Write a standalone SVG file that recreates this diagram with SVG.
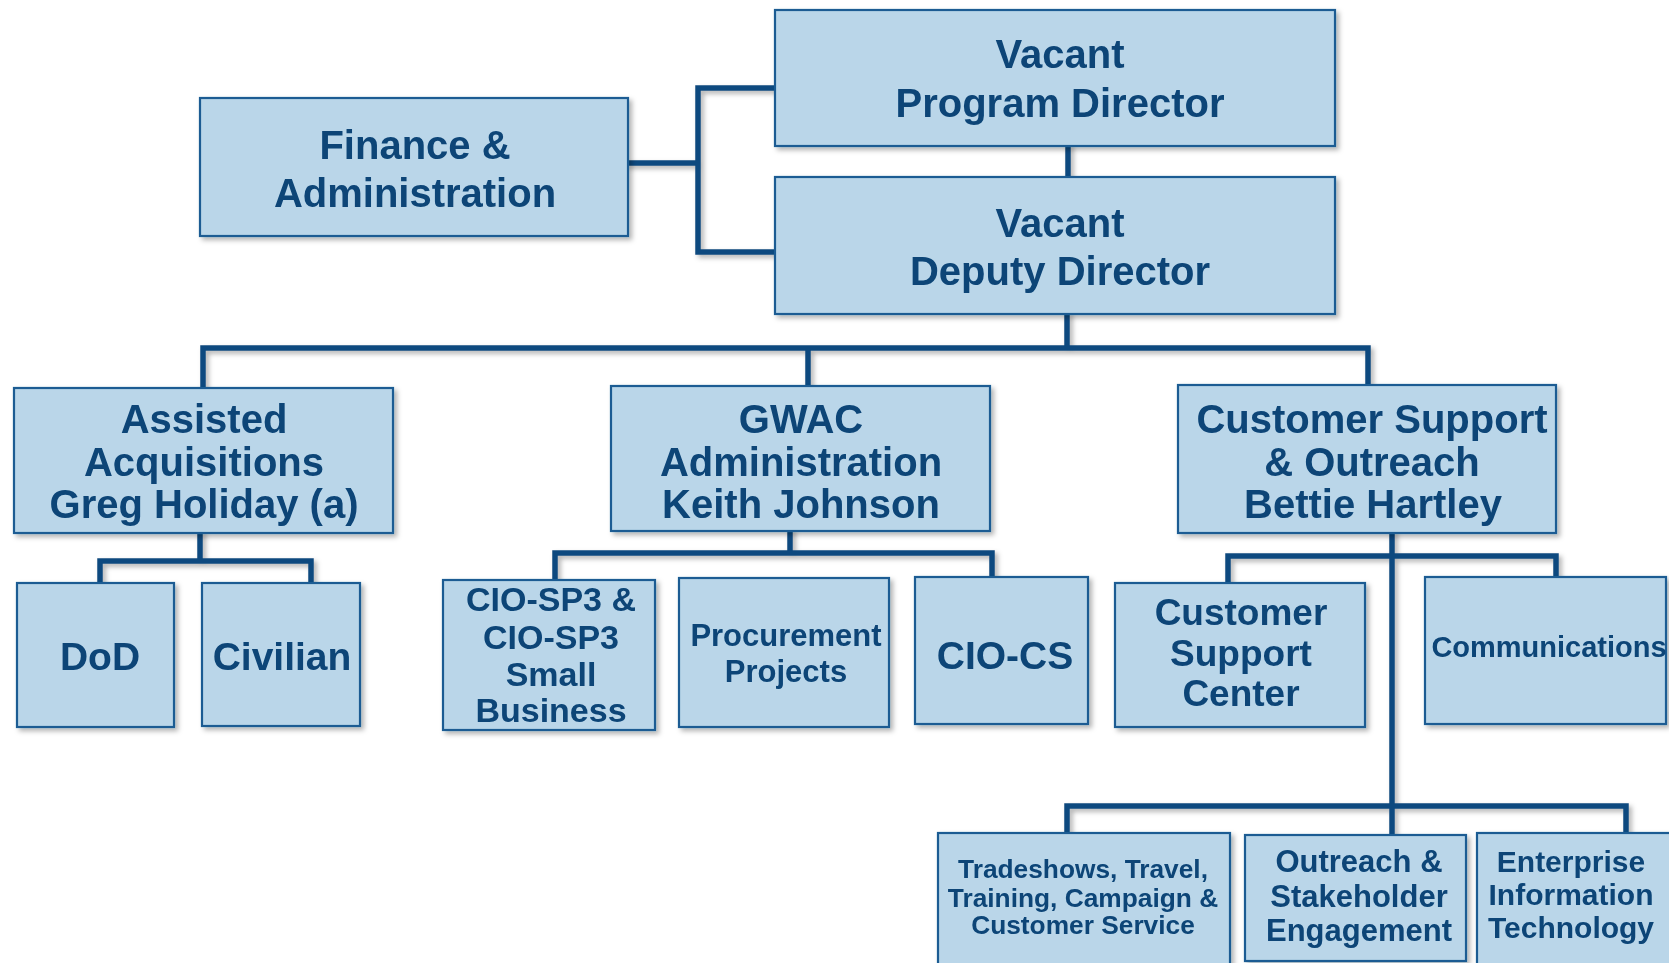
<svg xmlns="http://www.w3.org/2000/svg" width="1669" height="963" viewBox="0 0 1669 963">
<defs>
<filter id="sh" x="-10%" y="-10%" width="130%" height="130%">
<feDropShadow dx="3" dy="3" stdDeviation="2.5" flood-color="#000" flood-opacity="0.3"/>
</filter>
<style>
.box{fill:#bad6e9;stroke:#1d5b93;stroke-width:2.2}
.t{font-family:"Liberation Sans",Arial,sans-serif;font-weight:bold;fill:#0b4477;text-anchor:middle}
.c{fill:none;stroke:#0e4a7f;stroke-width:5.5;stroke-linecap:square;stroke-linejoin:miter}
</style>
</defs>
<rect width="1669" height="963" fill="#ffffff"/>
<g id="connectors" filter="url(#sh)">
<path class="c" d="M628,163 H698 M775,88 H698 V252 H775"/>
<path class="c" d="M1068,146 V177"/>
<path class="c" d="M1067,314 V348 M203,388 V348 H1368 V385 M808,348 V386"/>
<path class="c" d="M200,533 V561 M100,583 V561 H311 V583"/>
<path class="c" d="M790,531 V553 M555,580 V553 H992 V577"/>
<path class="c" d="M1392,533 V835 M1228,583 V556 H1556 V577"/>
<path class="c" d="M1067,833 V806 H1626 V833"/>
</g>
<g id="pd" filter="url(#sh)"><rect class="box" x="775" y="10" width="560" height="136"/>
<text class="t" font-size="40"><tspan x="1060" y="68">Vacant</tspan><tspan x="1060" y="117">Program Director</tspan></text></g>
<g id="dd" filter="url(#sh)"><rect class="box" x="775" y="177" width="560" height="137"/>
<text class="t" font-size="40"><tspan x="1060" y="237">Vacant</tspan><tspan x="1060" y="285">Deputy Director</tspan></text></g>
<g id="fin" filter="url(#sh)"><rect class="box" x="200" y="98" width="428" height="138"/>
<text class="t" font-size="40"><tspan x="415" y="159">Finance &amp;</tspan><tspan x="415" y="207">Administration</tspan></text></g>
<g id="aa" filter="url(#sh)"><rect class="box" x="14" y="388" width="379" height="145"/>
<text class="t" font-size="40"><tspan x="204" y="433">Assisted</tspan><tspan x="204" y="476">Acquisitions</tspan><tspan x="204" y="518">Greg Holiday (a)</tspan></text></g>
<g id="gwac" filter="url(#sh)"><rect class="box" x="611" y="386" width="379" height="145"/>
<text class="t" font-size="40"><tspan x="801" y="433">GWAC</tspan><tspan x="801" y="476">Administration</tspan><tspan x="801" y="518">Keith Johnson</tspan></text></g>
<g id="cso" filter="url(#sh)"><rect class="box" x="1178" y="385" width="378" height="148"/>
<text class="t" font-size="40"><tspan x="1372" y="433">Customer Support</tspan><tspan x="1372" y="476">&amp; Outreach</tspan><tspan x="1373" y="518">Bettie Hartley</tspan></text></g>
<g id="dod" filter="url(#sh)"><rect class="box" x="17" y="583" width="157" height="144"/>
<text class="t" font-size="39" x="100" y="670">DoD</text></g>
<g id="civ" filter="url(#sh)"><rect class="box" x="202" y="583" width="158" height="143"/>
<text class="t" font-size="39" x="282" y="670">Civilian</text></g>
<g id="ciosp3" filter="url(#sh)"><rect class="box" x="443" y="580" width="212" height="150"/>
<text class="t" font-size="34"><tspan x="551" y="611">CIO-SP3 &amp;</tspan><tspan x="551" y="649">CIO-SP3</tspan><tspan x="551" y="686">Small</tspan><tspan x="551" y="722">Business</tspan></text></g>
<g id="proc" filter="url(#sh)"><rect class="box" x="679" y="578" width="210" height="149"/>
<text class="t" font-size="31"><tspan x="786" y="646">Procurement</tspan><tspan x="786" y="682">Projects</tspan></text></g>
<g id="ciocs" filter="url(#sh)"><rect class="box" x="915" y="577" width="173" height="147"/>
<text class="t" font-size="39" x="1005" y="669">CIO-CS</text></g>
<g id="csc" filter="url(#sh)"><rect class="box" x="1115" y="583" width="250" height="144"/>
<text class="t" font-size="37"><tspan x="1241" y="625">Customer</tspan><tspan x="1241" y="666">Support</tspan><tspan x="1241" y="706">Center</tspan></text></g>
<g id="comm" filter="url(#sh)"><rect class="box" x="1425" y="577" width="241" height="147"/>
<text class="t" font-size="29" x="1549" y="657">Communications</text></g>
<g id="trade" filter="url(#sh)"><rect class="box" x="938" y="833" width="292" height="145"/>
<text class="t" font-size="26.3"><tspan x="1083" y="878">Tradeshows, Travel,</tspan><tspan x="1083" y="907">Training, Campaign &amp;</tspan><tspan x="1083" y="934">Customer Service</tspan></text></g>
<g id="outreach" filter="url(#sh)"><rect class="box" x="1245" y="835" width="221" height="126"/>
<text class="t" font-size="31"><tspan x="1359" y="872">Outreach &amp;</tspan><tspan x="1359" y="907">Stakeholder</tspan><tspan x="1359" y="941">Engagement</tspan></text></g>
<g id="eit" filter="url(#sh)"><rect class="box" x="1477" y="833" width="195" height="145"/>
<text class="t" font-size="30"><tspan x="1571" y="872">Enterprise</tspan><tspan x="1571" y="905">Information</tspan><tspan x="1571" y="938">Technology</tspan></text></g>
</svg>
